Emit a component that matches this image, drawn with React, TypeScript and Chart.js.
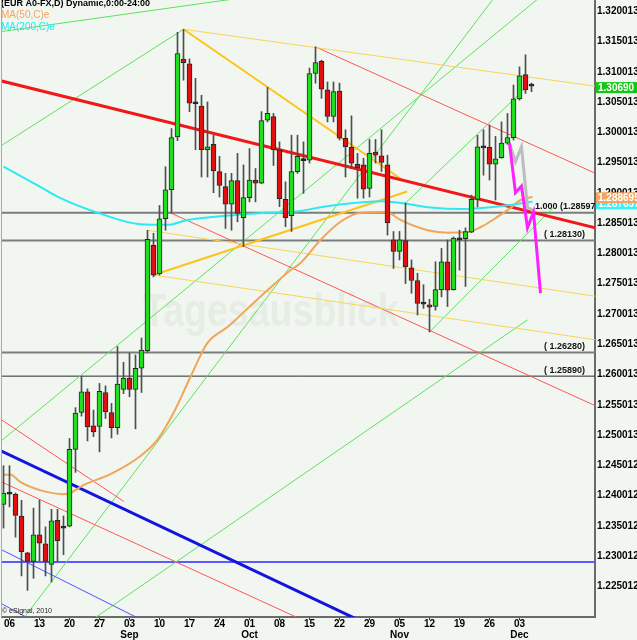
import React, { useEffect, useRef } from 'react';
import { Chart, registerables } from 'chart.js';

Chart.register(...registerables);

const FONT = "'Liberation Sans', Arial, Helvetica, sans-serif";

// ---- daily candles (index 0 = 05 Aug 2010) ----
const opens = [
  1.2377, 1.2395, 1.2394, 1.2358, 1.2297, 1.2283, 1.2327, 1.2312, 1.2278, 1.2351,
  1.2339, 1.2341, 1.2468, 1.2529, 1.2563, 1.2507, 1.2506, 1.2562, 1.2529, 1.2504,
  1.2567, 1.2586, 1.2567, 1.2602, 1.2631, 1.2805, 1.2758, 1.2849, 1.2897, 1.2984,
  1.3113, 1.3105, 1.3040, 1.3035, 1.2963, 1.2972, 1.2927, 1.2902, 1.2873, 1.2912,
  1.2851, 1.2884, 1.2913, 1.2908, 1.3012, 1.3018, 1.2963, 1.2881, 1.2854, 1.2927,
  1.2946, 1.2946, 1.3089, 1.3109, 1.3062, 1.3018, 1.3060, 1.2982, 1.2967, 1.2939,
  1.2938, 1.2899, 1.2959, 1.2953, 1.2938, 1.2814, 1.2795, 1.2813, 1.2768, 1.2747,
  1.2709, 1.2707, 1.2704, 1.2732, 1.2778, 1.2732, 1.2815, 1.2816, 1.2827, 1.2881,
  1.2967, 1.2967, 1.2939, 1.2950, 1.2974, 1.2983, 1.3047, 1.3087, 1.3068,
];
const highs = [
  1.2441, 1.2441, 1.2396, 1.2384, 1.2298, 1.2371, 1.2384, 1.2340, 1.2369, 1.2369,
  1.2358, 1.2486, 1.2537, 1.2589, 1.2568, 1.2533, 1.2577, 1.2573, 1.2544, 1.2638,
  1.2612, 1.2627, 1.2624, 1.2652, 1.2830, 1.2825, 1.2871, 1.2935, 1.2998, 1.3157,
  1.3162, 1.3113, 1.3081, 1.3053, 1.3042, 1.2987, 1.2952, 1.2924, 1.2924, 1.2957,
  1.2938, 1.2965, 1.2932, 1.3026, 1.3066, 1.3023, 1.2976, 1.2910, 1.2987, 1.2987,
  1.2976, 1.3098, 1.3133, 1.3111, 1.3075, 1.3075, 1.3073, 1.2996, 1.3019, 1.2957,
  1.2949, 1.2980, 1.2980, 1.2996, 1.2954, 1.2828, 1.2828, 1.2875, 1.2781, 1.2759,
  1.2740, 1.2716, 1.2778, 1.2800, 1.2814, 1.2819, 1.2830, 1.2834, 1.2888, 1.2987,
  1.2996, 1.3004, 1.2985, 1.3009, 1.3023, 1.3070, 1.3100, 1.3120, 1.3073,
];
const lows = [
  1.2338, 1.2373, 1.2323, 1.2259, 1.2235, 1.2255, 1.2283, 1.2259, 1.2249, 1.2283,
  1.2294, 1.2340, 1.2430, 1.2523, 1.2482, 1.2489, 1.2464, 1.2519, 1.2487, 1.2493,
  1.2560, 1.2555, 1.2502, 1.2562, 1.2628, 1.2753, 1.2756, 1.2830, 1.2858, 1.2978,
  1.3078, 1.3026, 1.2963, 1.2918, 1.2918, 1.2892, 1.2885, 1.2833, 1.2830, 1.2844,
  1.2803, 1.2877, 1.2877, 1.2907, 1.3009, 1.2937, 1.2869, 1.2836, 1.2828, 1.2924,
  1.2891, 1.2941, 1.3073, 1.3048, 1.3009, 1.3009, 1.2979, 1.2918, 1.2932, 1.2883,
  1.2883, 1.2885, 1.2941, 1.2927, 1.2822, 1.2767, 1.2781, 1.2742, 1.2726, 1.2690,
  1.2701, 1.2662, 1.2698, 1.2720, 1.2704, 1.2731, 1.2764, 1.2737, 1.2826, 1.2869,
  1.2921, 1.2913, 1.2880, 1.2949, 1.2972, 1.2979, 1.3045, 1.3056, 1.3059,
];
const closes = [
  1.2396, 1.2394, 1.2359, 1.2299, 1.2283, 1.2327, 1.2313, 1.2283, 1.2350, 1.2317,
  1.2338, 1.2468, 1.2528, 1.2563, 1.2505, 1.2497, 1.2564, 1.2530, 1.2504, 1.2576,
  1.2586, 1.2567, 1.2602, 1.2632, 1.2815, 1.2756, 1.2849, 1.2897, 1.2983, 1.3122,
  1.3107, 1.3040, 1.3039, 1.2963, 1.2968, 1.2928, 1.2904, 1.2873, 1.2912, 1.2858,
  1.2884, 1.2913, 1.2908, 1.3011, 1.3023, 1.2963, 1.2882, 1.2851, 1.2927, 1.2952,
  1.2945, 1.3089, 1.3107, 1.3063, 1.3018, 1.3059, 1.2982, 1.2968, 1.2941, 1.2933,
  1.2898, 1.2957, 1.2954, 1.2942, 1.2842, 1.2795, 1.2814, 1.2770, 1.2747, 1.2709,
  1.2708, 1.2703, 1.2732, 1.2778, 1.2731, 1.2817, 1.2814, 1.2828, 1.2881, 1.2968,
  1.2966, 1.2939, 1.2948, 1.2974, 1.2983, 1.3047, 1.3085, 1.3062, 1.3069,
];

// ---- axes ----
const xTickIdx = [1, 6, 11, 16, 21, 26, 31, 36, 41, 46, 51, 56, 61, 66, 71, 76, 81, 86];
const xTickLabels = ['06', '13', '20', '27', '03', '10', '17', '24', '01', '08', '15', '22', '29', '05', '12', '19', '26', '03'];
const xMonthLabels = ['', '', '', '', 'Sep', '', '', '', 'Oct', '', '', '', '', 'Nov', '', '', '', 'Dec'];

const yTickValues = [1.225, 1.23, 1.235, 1.24, 1.245, 1.25, 1.255, 1.26, 1.265, 1.27, 1.275, 1.28, 1.285, 1.29, 1.295, 1.3, 1.305, 1.31, 1.315, 1.32];
const yTickLabels = ['1.225012', '1.230012', '1.235012', '1.240012', '1.245012', '1.250013', '1.255013', '1.260013', '1.265013', '1.270013', '1.275013', '1.280013', '1.285013', '1.290013', '1.295013', '1.300013', '1.305013', '1.310013', '1.315013', '1.320013'];

// ---- moving averages ----
const ma50Idx = [0, 1.17, 2.83, 6.67, 10, 11.17, 13.33, 17.83, 22.83, 25.67, 28.33, 31.17, 34, 37.33, 41.67, 44, 47.83, 49.5, 52.83, 56.17, 59.5, 62.83, 64.17, 66.17, 70.67, 74, 77.33, 79.5, 82.33, 84.5, 86.17, 88.17];
const ma50Val = [1.2426, 1.2426, 1.2414, 1.2399, 1.2394, 1.2396, 1.2409, 1.2427, 1.2457, 1.2484, 1.2528, 1.2588, 1.2644, 1.2670, 1.2710, 1.2731, 1.2764, 1.2776, 1.2814, 1.2844, 1.2859, 1.2860, 1.2859, 1.2847, 1.2830, 1.2826, 1.2827, 1.2835, 1.2852, 1.2867, 1.2880, 1.2885];
const ma200Idx = [0, 5, 9.5, 15.67, 22.83, 27.33, 30.67, 38.33, 44, 49.5, 52.83, 58.33, 62.83, 66.17, 71.67, 76.17, 81.17, 88.17];
const ma200Val = [1.2935, 1.2908, 1.2883, 1.2859, 1.2840, 1.2839, 1.2847, 1.2855, 1.2859, 1.2862, 1.2868, 1.2875, 1.2878, 1.2875, 1.2867, 1.2865, 1.2868, 1.2877];

// ---- trend lines [idx1, price1, idx2, price2] ----
const redThick = [-0.5, 1.3077, 98.67, 1.2834];
const blueThick = [-0.5, 1.2466, 62.83, 1.2169];
const redThin = [
  [52, 1.3133, 98.67, 1.2924],
  [28, 1.2858, 98.67, 1.2540],
  [-0.5, 1.2518, 20.05, 1.2382],
  [-0.5, 1.2415, 54.5, 1.2165],
];
const blueThin = [
  [-0.5, 1.2303, 24.5, 1.2179],
  [-0.5, 1.2214, 6.17, 1.2178],
];
const goldThick = [
  [30, 1.3162, 66.5, 1.2913],
  [25, 1.2756, 67.28, 1.2894],
];
const yellowThin = [
  [30, 1.3162, 98.67, 1.3068],
  [24, 1.2830, 98.67, 1.2721],
  [25, 1.2756, 98.67, 1.2649],
];
const greenLines = [
  [-0.5, 1.3158, 41.17, 1.3216],
  [-0.5, 1.2969, 30, 1.3162],
  [-0.5, 1.2481, 92.83, 1.3243],
  [2, 1.2171, 82.83, 1.3228],
  [13.67, 1.2179, 87.33, 1.2682],
  [67, 1.2875, 87.33, 1.3068],
  [71, 1.2662, 91.67, 1.2868],
];
const blueLevel = 1.2282;
const levels = [1.2859, 1.2813, 1.2628, 1.2589];
const levelLabels = ['1.000 (1.28597)', '( 1.28130)', '( 1.26280)', '( 1.25890)'];

// ---- projections ----
const magentaIdx = [84.33, 85.33, 86.33, 87.33, 88.33, 89.5];
const magentaVal = [1.2974, 1.2892, 1.2903, 1.2834, 1.2860, 1.2726];
const grayIdx = [84.33, 85.33, 86.33, 87.33, 88.33];
const grayVal = [1.2974, 1.2943, 1.2968, 1.2868, 1.2862];

// ---- right-axis value boxes ----
const lastValues = [1.2877, 1.288695, 1.3069];
const lastLabels = ['1.287637', '1.288695', '1.30690'];

const seg = (l: number[]) => [{ x: l[0], y: l[1] }, { x: l[2], y: l[3] }];
const pts = (xs: number[], ys: number[]) => xs.map((x, i) => ({ x, y: ys[i] }));

export default function App() {
  const ref = useRef<HTMLCanvasElement | null>(null);

  useEffect(() => {
    const canvas = ref.current;
    if (!canvas) return;
    const idx = opens.map((_, i) => i);
    const isDoji = (i: number) => Math.abs(closes[i] - opens[i]) < 0.00015;
    const bodyColors = idx.map((i) => (isDoji(i) ? '#111111' : closes[i] > opens[i] ? '#22dd22' : '#e01010'));

    const line = (data: any[], color: string, width: number, order: number, extra: any = {}) => ({
      type: 'line',
      data,
      borderColor: color,
      borderWidth: width,
      pointRadius: 0,
      pointHoverRadius: 0,
      fill: false,
      tension: 0,
      order,
      clip: 0,
      ...extra,
    });

    const datasets: any[] = [];
    datasets.push(line(pts(magentaIdx, magentaVal), '#ff20ff', 3, 0));
    datasets.push(line(pts(grayIdx, grayVal), '#bdbdbd', 3, 1));
    datasets.push({
      type: 'bar',
      data: idx.map((i) => ({ x: i, y: [opens[i], closes[i]] })),
      backgroundColor: bodyColors,
      borderColor: '#262626',
      borderWidth: 1,
      borderSkipped: false,
      barThickness: 5,
      minBarLength: 2,
      grouped: false,
      order: 2,
    });
    datasets.push({
      type: 'bar',
      data: idx.map((i) => ({ x: i, y: [lows[i], highs[i]] })),
      backgroundColor: '#4e4e4e',
      borderWidth: 0,
      barThickness: 1,
      grouped: false,
      order: 3,
    });
    datasets.push(line(pts(ma200Idx, ma200Val), '#2ee8f2', 2, 4, { cubicInterpolationMode: 'monotone' }));
    datasets.push(line(pts(ma50Idx, ma50Val), '#f2a55a', 2, 4, { cubicInterpolationMode: 'monotone' }));
    datasets.push(line(seg(redThick), '#f01818', 3, 5));
    datasets.push(line(seg(blueThick), '#1414e0', 3, 5));
    goldThick.forEach((l) => datasets.push(line(seg(l), '#ffc21a', 2, 5)));
    yellowThin.forEach((l) => datasets.push(line(seg(l), '#f8d45a', 1, 6)));
    redThin.forEach((l) => datasets.push(line(seg(l), '#ff5656', 1, 6)));
    blueThin.forEach((l) => datasets.push(line(seg(l), '#5050ff', 1, 6)));
    greenLines.forEach((l) => datasets.push(line(seg(l), '#5ee05e', 1, 6)));
    datasets.push(line(seg([-1, blueLevel, 100, blueLevel]), '#5a5aff', 2, 7));
    levels.forEach((v, i) =>
      datasets.push(line(seg([-1, v, 100, v]), i === 3 ? '#2a2a2a' : '#7c7c7c', i === 3 ? 1 : 2, 7))
    );

    const overlay = {
      id: 'overlay',
      beforeDraw(chart: any) {
        const c = chart.ctx;
        c.save();
        c.fillStyle = '#f1f7f0';
        c.fillRect(0, 0, chart.width, chart.height);
        c.restore();
      },
      beforeDatasetsDraw(chart: any) {
        const c = chart.ctx;
        c.save();
        c.font = `bold 46px ${FONT}`;
        const text = 'Tagesausblick';
        const w = c.measureText(text).width;
        c.translate(143, 326);
        c.scale(256 / w, 1);
        c.fillStyle = '#e6ede4';
        c.textBaseline = 'alphabetic';
        c.fillText(text, 0, 0);
        c.restore();
      },
      afterDatasetsDraw(chart: any) {
        const c = chart.ctx;
        const a = chart.chartArea;
        const ys = chart.scales.y;
        c.save();
        c.beginPath();
        c.rect(a.left, a.top, a.right - a.left, a.bottom - a.top);
        c.clip();
        c.font = `bold 9px ${FONT}`;
        c.fillStyle = '#111';
        c.textBaseline = 'middle';
        c.textAlign = 'left';
        c.fillText(levelLabels[0], a.right - 60, ys.getPixelForValue(levels[0]) - 6.5);
        c.textAlign = 'right';
        for (let i = 1; i < levels.length; i++) {
          c.fillText(levelLabels[i], a.right - 10, ys.getPixelForValue(levels[i]) - 6);
        }
        c.textAlign = 'left';
        c.font = `bold 9px ${FONT}`;
        c.fillStyle = '#000';
        c.textBaseline = 'top';
        c.fillText('(EUR A0-FX,D) Dynamic,0:00-24:00', 1, -1);
        c.font = `10px ${FONT}`;
        c.textBaseline = 'middle';
        c.fillStyle = '#f4a460';
        c.fillText('MA(50,C)e', 1, 15.5);
        c.fillStyle = '#1ee8ee';
        c.fillText('MA(200,C)e', 1, 27);
        c.fillStyle = '#222';
        c.font = `7px ${FONT}`;
        c.fillText('\u00a9 eSignal, 2010', 2, 611);
        c.restore();
        // left border
        c.save();
        c.strokeStyle = '#a8a8a8';
        c.lineWidth = 1;
        c.beginPath();
        c.moveTo(1.5, a.top);
        c.lineTo(1.5, a.bottom);
        c.stroke();
        c.restore();
      },
      afterDraw(chart: any) {
        const c = chart.ctx;
        const a = chart.chartArea;
        const ys = chart.scales.y;
        const bgs = ['#33f2ff', '#f4a460', '#12c812'];
        c.save();
        c.font = `bold 10px ${FONT}`;
        c.textBaseline = 'middle';
        c.textAlign = 'left';
        lastValues.forEach((v, i) => {
          const cy = ys.getPixelForValue(v) + 2;
          c.fillStyle = bgs[i];
          c.fillRect(a.right + 1, cy - 5.5, chart.width - a.right - 1, 11);
          c.fillStyle = '#ffffff';
          c.fillText(lastLabels[i], a.right + 3, cy + 0.5);
        });
        c.restore();
      },
    };

    const chart = new Chart(canvas, {
      type: 'bar',
      data: { datasets },
      options: {
        responsive: false,
        maintainAspectRatio: false,
        animation: false,
        devicePixelRatio: 1,
        events: [],
        layout: { padding: { left: 2, right: 0, top: 0, bottom: 0 } },
        plugins: { legend: { display: false }, tooltip: { enabled: false }, title: { display: false } },
        scales: {
          x: {
            type: 'linear',
            min: -0.25,
            max: 98.5833,
            offset: false,
            afterBuildTicks: (s: any) => {
              s.ticks = xTickIdx.map((v) => ({ value: v }));
            },
            afterFit: (s: any) => {
              s.height = 23;
              s.paddingLeft = 0;
              s.paddingRight = 0;
            },
            ticks: {
              autoSkip: false,
              maxRotation: 0,
              minRotation: 0,
              padding: -2,
              color: '#000',
              font: { family: FONT, size: 10, weight: 'bold', lineHeight: 1.15 },
              callback: (_v: any, i: number) => (xMonthLabels[i] ? [xTickLabels[i], xMonthLabels[i]] : xTickLabels[i]),
            },
            grid: { display: true, offset: false, drawOnChartArea: false, drawTicks: true, tickLength: 3, color: '#333', tickColor: '#333' },
            border: { display: true, color: '#6a6a6a', width: 2 },
          },
          y: {
            type: 'linear',
            position: 'right',
            min: 1.21911,
            max: 1.32104,
            bounds: 'data',
            beginAtZero: false,
            afterBuildTicks: (s: any) => {
              s.ticks = yTickValues.map((v) => ({ value: v }));
            },
            afterFit: (s: any) => {
              s.width = 42;
              s.paddingTop = 0;
              s.paddingBottom = 0;
            },
            ticks: {
              autoSkip: false,
              padding: 2,
              labelOffset: 5,
              color: '#000',
              font: { family: FONT, size: 10, weight: 'bold' },
              callback: (_v: any, i: number) => yTickLabels[i],
            },
            grid: { display: true, drawOnChartArea: false, drawTicks: false },
            border: { display: true, color: '#6a6a6a', width: 2 },
          },
        },
      } as any,
      plugins: [overlay],
    } as any);

    return () => chart.destroy();
  }, []);

  return (
    <div style={{ position: 'fixed', left: 0, top: 0, width: 637, height: 640 }}>
      <canvas ref={ref} width={637} height={640} style={{ display: 'block', width: 637, height: 640 }} />
    </div>
  );
}
